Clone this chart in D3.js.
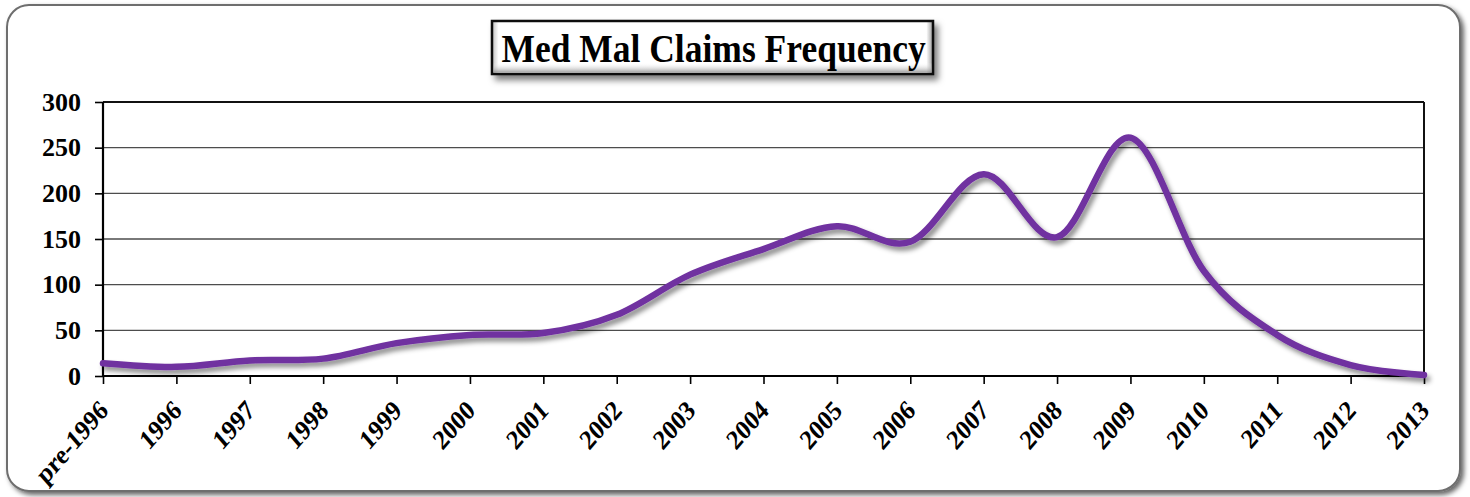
<!DOCTYPE html>
<html>
<head>
<meta charset="utf-8">
<script src="https://cdn.jsdelivr.net/npm/d3@7"></script>
<style>
  html, body { margin: 0; padding: 0; background: #ffffff; }
  svg { display: block; }
</style>
</head>
<body>
<div id="chart"></div>
<script>
// ---- Data ----
const categories = ["pre-1996","1996","1997","1998","1999","2000","2001","2002","2003","2004",
                    "2005","2006","2007","2008","2009","2010","2011","2012","2013"];
const claims = [14, 10, 17, 19, 36, 45, 47, 67, 111, 139, 164, 147, 221, 152, 261, 115, 45, 12, 1];
const yTicks = [0, 50, 100, 150, 200, 250, 300];
const titleText = "Med Mal Claims Frequency";

// ---- Layout ----
const W = 1470, H = 497;
const plot = { left: 103, right: 1424, top: 102, bottom: 376 };
const serif = "'Liberation Serif', 'Times New Roman', serif";

const svg = d3.select("#chart").append("svg").attr("width", W).attr("height", H);
const defs = svg.append("defs");

// frame shadow
const fShadow = defs.append("filter").attr("id", "frameShadow")
  .attr("x", "-5%").attr("y", "-5%").attr("width", "110%").attr("height", "115%");
fShadow.append("feDropShadow").attr("dx", 3).attr("dy", 3).attr("stdDeviation", 2.5)
  .attr("flood-color", "#000").attr("flood-opacity", 0.6);

const lShadow = defs.append("filter").attr("id", "lineShadow")
  .attr("x", "-5%").attr("y", "-20%").attr("width", "110%").attr("height", "140%");
lShadow.append("feDropShadow").attr("dx", 3).attr("dy", 4).attr("stdDeviation", 2.5)
  .attr("flood-color", "#000").attr("flood-opacity", 0.45);

const tShadow = defs.append("filter").attr("id", "titleShadow")
  .attr("x", "-5%").attr("y", "-20%").attr("width", "115%").attr("height", "160%");
tShadow.append("feDropShadow").attr("dx", 4).attr("dy", 5).attr("stdDeviation", 3)
  .attr("flood-color", "#000").attr("flood-opacity", 0.5);

// bevel gradients for title box
const gH = defs.append("linearGradient").attr("id", "bevelH").attr("x1", 0).attr("x2", 1).attr("y1", 0).attr("y2", 0);
gH.append("stop").attr("offset", "0%").attr("stop-color", "#bdbdbd");
gH.append("stop").attr("offset", "1.5%").attr("stop-color", "#ffffff");
gH.append("stop").attr("offset", "98.5%").attr("stop-color", "#ffffff");
gH.append("stop").attr("offset", "100%").attr("stop-color", "#9a9a9a");
const gV = defs.append("linearGradient").attr("id", "bevelV").attr("x1", 0).attr("x2", 0).attr("y1", 0).attr("y2", 1);
gV.append("stop").attr("offset", "0%").attr("stop-color", "#ffffff").attr("stop-opacity", 0);
gV.append("stop").attr("offset", "80%").attr("stop-color", "#ffffff").attr("stop-opacity", 0);
gV.append("stop").attr("offset", "100%").attr("stop-color", "#8a8a8a").attr("stop-opacity", 0.8);

// ---- Outer frame ----
svg.append("rect")
  .attr("x", 7).attr("y", 5).attr("width", 1453).attr("height", 486)
  .attr("rx", 22).attr("ry", 22)
  .attr("fill", "#ffffff").attr("stroke", "#6e6e6e").attr("stroke-width", 2)
  .attr("filter", "url(#frameShadow)");

// ---- Scales ----
const x = d3.scalePoint().domain(categories).range([plot.left, plot.right]);
const y = d3.scaleLinear().domain([0, 300]).range([plot.bottom, plot.top]);

// ---- Gridlines ----
svg.append("g").selectAll("line").data(yTicks.filter(d => d > 0)).join("line")
  .attr("x1", plot.left).attr("x2", plot.right)
  .attr("y1", d => y(d)).attr("y2", d => y(d))
  .attr("stroke", d => d === 300 ? "#111" : "#4d4d4d")
  .attr("stroke-width", d => d === 300 ? 2 : 1.4);

// right border
svg.append("line").attr("x1", plot.right).attr("x2", plot.right)
  .attr("y1", plot.top).attr("y2", plot.bottom)
  .attr("stroke", "#111").attr("stroke-width", 2);

// ---- Axes ----
const yAxis = svg.append("g").attr("transform", `translate(${plot.left},0)`)
  .call(d3.axisLeft(y).tickValues(yTicks).tickSize(8).tickPadding(14));
const xAxis = svg.append("g").attr("transform", `translate(0,${plot.bottom})`)
  .call(d3.axisBottom(x).tickSize(8).tickPadding(6));

[yAxis, xAxis].forEach(a => {
  a.select(".domain").attr("stroke", "#000").attr("stroke-width", 2.2);
  a.selectAll(".tick line").attr("stroke", "#000").attr("stroke-width", 1.6);
});
yAxis.select(".domain").attr("d", `M0,${plot.top}V${plot.bottom}`);
xAxis.select(".domain").attr("d", `M${plot.left},0H${plot.right}`);

yAxis.selectAll(".tick text")
  .attr("font-family", serif).attr("font-weight", "bold").attr("font-size", 26)
  .attr("fill", "#000");

xAxis.selectAll(".tick text")
  .attr("font-family", serif).attr("font-weight", "bold").attr("font-size", 24)
  .attr("fill", "#000")
  .attr("text-anchor", "end")
  .attr("y", 0).attr("dy", "0")
  .attr("transform", "translate(6,36) scale(1,1.15) rotate(-45)");

// ---- Line ----
const line = d3.line()
  .x((d, i) => x(categories[i]))
  .y(d => y(d))
  .curve(d3.curveCatmullRom.alpha(0));

svg.append("path").datum(claims)
  .attr("d", line)
  .attr("fill", "none")
  .attr("stroke", "#7030A0")
  .attr("stroke-width", 6.5)
  .attr("stroke-linejoin", "round")
  .attr("stroke-linecap", "round")
  .attr("filter", "url(#lineShadow)");

// ---- Title box ----
const tb = { x: 492, y: 21, w: 441, h: 53 };
const tg = svg.append("g");
tg.append("rect").attr("x", tb.x).attr("y", tb.y).attr("width", tb.w).attr("height", tb.h)
  .attr("fill", "url(#bevelH)").attr("stroke", "#111").attr("stroke-width", 2.5)
  .attr("filter", "url(#titleShadow)");
tg.append("rect").attr("x", tb.x + 1.5).attr("y", tb.y + 1.5).attr("width", tb.w - 3).attr("height", tb.h - 3)
  .attr("fill", "url(#bevelV)");
tg.append("text")
  .attr("transform", `translate(${tb.x + tb.w / 2 + 1},62) scale(1,1.15)`)
  .attr("text-anchor", "middle")
  .attr("font-family", serif).attr("font-weight", "bold").attr("font-size", 35.5)
  .attr("fill", "#000")
  .text(titleText);
</script>
</body>
</html>
